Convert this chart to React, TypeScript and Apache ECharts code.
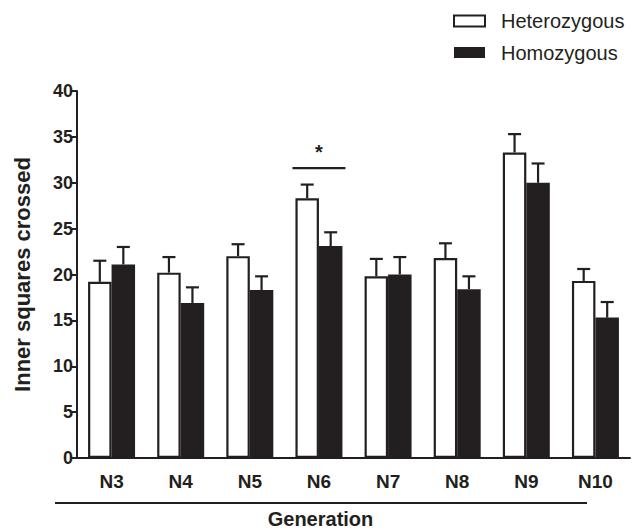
import React, { useEffect, useRef } from "react";
import * as echarts from "echarts";

const categories = ["N3", "N4", "N5", "N6", "N7", "N8", "N9", "N10"];
const heterozygous = [19.2, 20.2, 22.0, 28.3, 19.8, 21.8, 33.3, 19.3];
const heterozygousSem = [2.3, 1.7, 1.3, 1.5, 1.9, 1.6, 2.0, 1.3];
const homozygous = [21.1, 16.9, 18.3, 23.1, 20.0, 18.4, 30.0, 15.3];
const homozygousSem = [1.9, 1.7, 1.5, 1.5, 1.9, 1.4, 2.1, 1.7];
const significance = [[3, 31.6]];
const yTicks = { min: 0, max: 40, interval: 5 };

const INK = "#231f20";
const FONT = "'Liberation Sans', Arial, sans-serif";
const BAR_W = 23.5;

function errorSeries(name: string, values: number[], sems: number[], side: number) {
  return {
    type: "custom",
    name: name + " SEM",
    silent: true,
    z: 1,
    encode: { x: 0, y: 1 },
    data: values.map((v, i) => [i, v, sems[i]]),
    renderItem: (params: any, api: any) => {
      const idx = api.value(0);
      const v = api.value(1);
      const e = api.value(2);
      const base = api.coord([idx, v]);
      const top = api.coord([idx, v + e]);
      const cx = base[0] + side * BAR_W / 2;
      const style = { stroke: INK, lineWidth: 2.2, fill: "none" };
      return {
        type: "group",
        children: [
          { type: "line", shape: { x1: cx, y1: base[1], x2: cx, y2: top[1] }, style },
          { type: "line", shape: { x1: cx - 6.5, y1: top[1], x2: cx + 6.5, y2: top[1] }, style },
        ],
      };
    },
  };
}

export default function App() {
  const ref = useRef<HTMLDivElement>(null);
  useEffect(() => {
    if (!ref.current) return;
    const chart = echarts.init(ref.current, undefined, { renderer: "svg" });
    chart.setOption({
      animation: false,
      backgroundColor: "#ffffff",
      textStyle: { fontFamily: FONT },
      grid: { left: 77, right: 11, top: 91, bottom: 73, containLabel: false, outerBoundsMode: "none" },
      legend: {
        orient: "vertical",
        left: 453,
        top: 11,
        padding: 0,
        itemWidth: 31,
        itemHeight: 11,
        itemGap: 11.5,
        icon: "rect",
        textStyle: { fontFamily: FONT, fontSize: 20, color: INK, lineHeight: 20, padding: [0, 0, 0, 11] },
        data: [
          { name: "Heterozygous", itemStyle: { color: "#ffffff", borderColor: INK, borderWidth: 2 } },
          { name: "Homozygous", itemStyle: { color: INK, borderColor: INK, borderWidth: 0 } },
        ],
      },
      xAxis: {
        type: "category",
        data: categories,
        axisLine: { lineStyle: { color: INK, width: 2 } },
        axisTick: { show: false },
        axisLabel: { color: INK, fontSize: 19, fontWeight: "bold", fontFamily: FONT, margin: 14 },
        name: "Generation",
        nameLocation: "middle",
        nameGap: 51,
        nameTextStyle: { color: INK, fontSize: 20, fontWeight: "bold", fontFamily: FONT, padding: [0, 66, 0, 0] },
      },
      yAxis: {
        type: "value",
        min: yTicks.min,
        max: yTicks.max,
        interval: yTicks.interval,
        axisLine: { show: true, lineStyle: { color: INK, width: 2 } },
        axisTick: { show: true, length: 6, lineStyle: { color: INK, width: 2 } },
        splitLine: { show: false },
        axisLabel: { color: INK, fontSize: 18, fontWeight: "bold", fontFamily: FONT, margin: 4 },
        name: "Inner squares crossed",
        nameLocation: "middle",
        nameGap: 44,
        nameTextStyle: { color: INK, fontSize: 22, fontWeight: "bold", fontFamily: FONT },
      },
      series: [
        {
          type: "bar",
          name: "Heterozygous",
          data: heterozygous,
          barWidth: BAR_W,
          barGap: "0%",
          z: 2,
          itemStyle: { color: "#ffffff", borderColor: INK, borderWidth: 2.2 },
        },
        {
          type: "bar",
          name: "Homozygous",
          data: homozygous,
          barWidth: BAR_W,
          barGap: "0%",
          z: 2,
          itemStyle: { color: INK, borderColor: INK, borderWidth: 0 },
        },
        errorSeries("Heterozygous", heterozygous, heterozygousSem, -1),
        errorSeries("Homozygous", homozygous, homozygousSem, 1),
        {
          type: "custom",
          name: "significance",
          silent: true,
          encode: { x: 0, y: 1 },
          data: significance,
          renderItem: (params: any, api: any) => {
            const p = api.coord([api.value(0), api.value(1)]);
            return {
              type: "group",
              children: [
                { type: "line", shape: { x1: p[0] - 26.5, y1: p[1], x2: p[0] + 26.5, y2: p[1] }, style: { stroke: INK, lineWidth: 2.2 } },
                {
                  type: "text",
                  style: { text: "*", x: p[0], y: p[1] - 6, align: "center", verticalAlign: "bottom", fontSize: 20, fontWeight: "bold", fontFamily: FONT, fill: INK },
                },
              ],
            };
          },
        },
      ],
      graphic: [
        { type: "line", shape: { x1: 55, y1: 503, x2: 587, y2: 503 }, style: { stroke: INK, lineWidth: 2 } },
      ],
    });
    return () => chart.dispose();
  }, []);
  return <div ref={ref} style={{ width: 641, height: 531, position: "absolute", left: 0, top: 0 }} />;
}
